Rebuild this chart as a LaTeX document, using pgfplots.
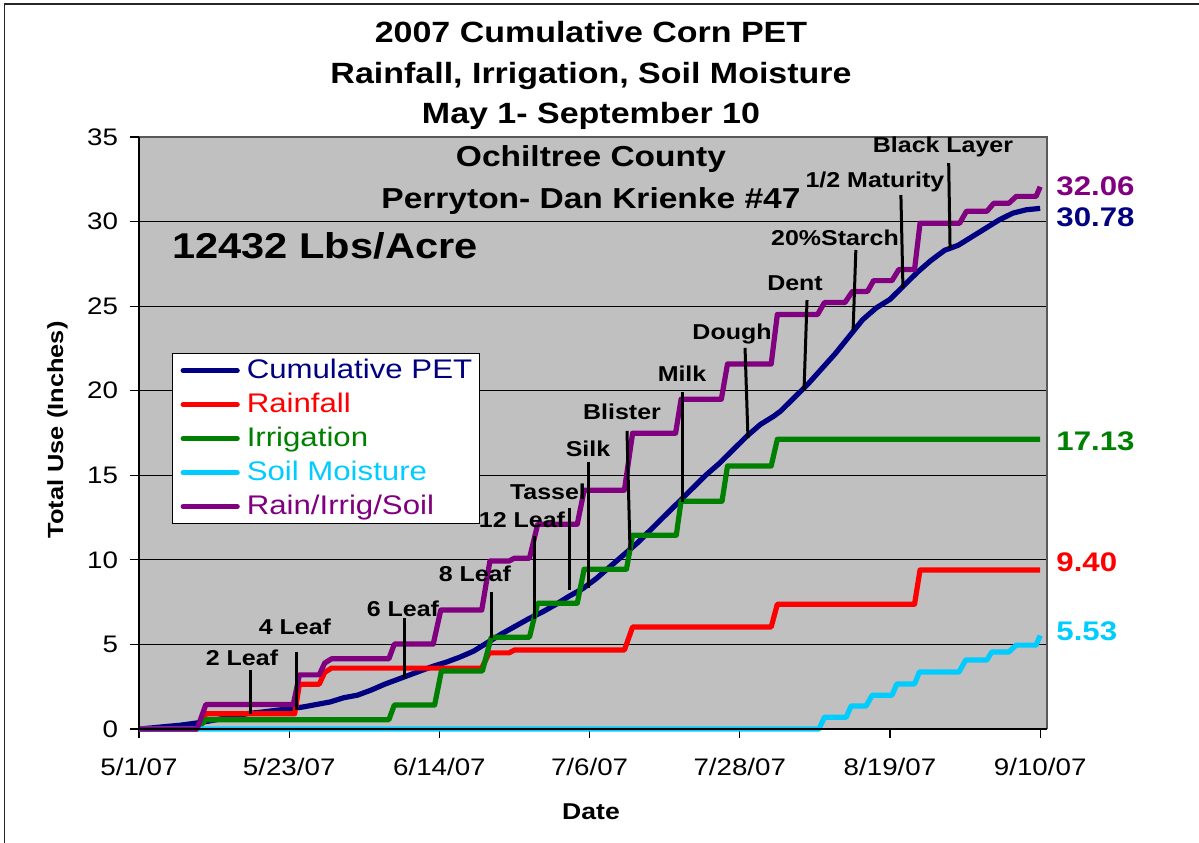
\documentclass[border=0pt]{standalone}
\usepackage{fontspec}
\setmainfont{Liberation Sans}[FakeStretch=1.16]
\usepackage{pgfplots}
\pgfplotsset{compat=1.18}

\definecolor{bgray}{RGB}{192,192,192}
\definecolor{pet}{RGB}{0,0,128}
\definecolor{rain}{RGB}{255,0,0}
\definecolor{irr}{RGB}{0,128,0}
\definecolor{soil}{RGB}{0,204,255}
\definecolor{tot}{RGB}{128,0,128}

\newcommand\fs[1]{\fontsize{#1}{#1}\selectfont}

\begin{document}
\begin{tikzpicture}
\fill[white] (0,0) rectangle (599.5bp,421.5bp);
\useasboundingbox (0,0) rectangle (599.5bp,421.5bp);
\draw[line width=0.8bp, black!85] (2.3bp,0) -- (2.3bp,419.6bp) -- (599.5bp,419.6bp);

\begin{axis}[
  at={(69.5bp,57bp)}, anchor=south west,
  scale only axis, width=454bp, height=296bp,
  xmin=0, xmax=133, ymin=0, ymax=35,
  clip=false,
  axis background/.style={fill=bgray},
  axis line style={draw=none},
  xtick={0,22,44,66,88,110,132},
  xticklabels={5/1/07,5/23/07,6/14/07,7/6/07,7/28/07,8/19/07,9/10/07},
  ytick={0,5,...,35},
  xtick pos=left, ytick pos=left,
  tick align=outside, major tick length=4.5bp,
  tick style={black, line width=0.6bp},
  ymajorgrids, major grid style={black, line width=0.5bp},
  ticklabel style={font=\fs{12}},
  xticklabel style={yshift=-6.5bp},
  yticklabel style={xshift=-2.5bp},
  /pgf/number format/assume math mode=true,
  legend style={at={(rel axis cs:0.0363,0.635)}, anchor=north west,
    draw=black, line width=0.6bp, fill=white, font=\fs{13.5},
    inner xsep=1.5bp, inner ysep=0bp, row sep=0pt,
    nodes={inner ysep=0.5bp, text height=12bp, text depth=4bp},
    cells={anchor=west}},
  legend image code/.code={\path (0bp,0bp) (31bp,0bp);
    \draw[#1, line cap=round] (2.5bp,0bp) -- (29.5bp,0bp);},
  every axis plot/.append style={no marks, line width=2.6bp, line join=round},
]

\addplot[pet] coordinates {
(0,0) (2,0.07) (4,0.15) (6,0.22) (8,0.33) (10,0.45) (12,0.6) (14,0.75) (16,0.92)
(18,1.0) (20,1.1) (22,1.2) (23,1.25) (24,1.3) (26,1.45) (28,1.6) (30,1.85) (32,2.0)
(34,2.3) (36,2.65) (38,2.95) (39,3.1) (41,3.4) (43,3.7) (45,3.95) (47,4.25) (49,4.6)
(51,5.1) (53,5.6) (55,6.05) (57,6.5) (59,6.9) (61,7.35) (63,7.85) (65,8.3) (67,8.9)
(69,9.6) (71,10.3) (73,11.0) (75,11.8) (77,12.6) (79,13.4) (81,14.2) (83,15.0)
(85,15.7) (87,16.5) (89,17.3) (91,18.0) (93,18.5) (94,18.8) (96,19.6) (98,20.4)
(100,21.3) (102,22.2) (104,23.2) (106,24.2) (108,24.9) (110,25.4) (112,26.2)
(114,27.0) (116,27.7) (118,28.3) (120,28.6) (122,29.1) (124,29.6) (126,30.1)
(128,30.5) (130,30.7) (132,30.78)};
\addlegendentry{\color{pet}Cumulative PET}

\addplot[rain] coordinates {
(0,0) (8.5,0) (9.8,0.9) (22.8,0.9) (23.5,2.65) (26.4,2.65) (27.2,3.35) (28.2,3.6)
(50.2,3.6) (51.3,4.5) (54.2,4.5) (55,4.67) (71.1,4.67) (72.3,6.03) (92.6,6.03)
(93.5,7.38) (113.6,7.38) (114.4,9.4) (132,9.4)};
\addlegendentry{\color{rain}Rainfall}

\addplot[irr] coordinates {
(0,0) (8.5,0) (9.8,0.55) (36.6,0.55) (37.4,1.42) (43.3,1.42) (44.3,3.43) (50.3,3.43)
(51.6,5.43) (57.2,5.43) (58.4,7.44) (64.2,7.44) (65.2,9.45) (71.4,9.45) (72.3,11.46)
(78.7,11.46) (79.4,13.47) (85.4,13.47) (86.2,15.55) (92.6,15.55) (93.5,17.13) (132,17.13)};
\addlegendentry{\color{irr}Irrigation}

\addplot[soil] coordinates {
(0,0) (99.6,0) (100.4,0.7) (103.6,0.7) (104.3,1.36) (106.5,1.36) (107.4,2.0)
(110.3,2.0) (111,2.66) (113.6,2.66) (114.3,3.37) (120.1,3.37) (121.1,4.08)
(124.2,4.08) (124.9,4.55) (127.4,4.55) (128.5,4.96) (131.4,4.96) (132,5.53)};
\addlegendentry{\color{soil}Soil Moisture}

\addplot[tot] coordinates {
(0,0) (8.5,0) (9.8,1.45) (22.6,1.45) (23.5,3.2) (26.4,3.2) (27.2,3.9) (28.2,4.15)
(36.6,4.15) (37.4,5.02) (43.1,5.02) (44.2,7.03) (50.2,7.03) (51.4,9.93) (54.2,9.93)
(55,10.1) (57.2,10.1) (58.4,12.11) (64.2,12.11) (65.2,14.12) (71.1,14.12) (72.3,17.49)
(78.6,17.49) (79.4,19.5) (85.3,19.5) (86.2,21.58) (92.6,21.58) (93.5,24.51)
(99.4,24.51) (100.4,25.21) (103.4,25.21) (104.5,25.87) (106.7,25.87) (107.6,26.51)
(110.3,26.51) (111.3,27.17) (113.6,27.17) (114.4,29.9) (120.2,29.9) (121.2,30.61)
(124.2,30.61) (125.2,31.08) (127.4,31.08) (128.5,31.49) (131.4,31.49) (132,32.06)};
\addlegendentry{\color{tot}Rain/Irrig/Soil}

% plot frame: gray top/right, black axes left/bottom
\draw[gray!70!black, line width=0.8bp] (rel axis cs:0,1) -- (rel axis cs:1,1) -- (rel axis cs:1,0);
\draw[black, line width=0.7bp] (rel axis cs:0,1) -- (rel axis cs:0,0) -- (rel axis cs:1,0);

% growth stage markers
\begin{scope}[line width=1.5bp, black]
\draw (axis cs:16.4,3.49) -- (axis cs:16.4,0.89);
\draw (axis cs:23.14,4.55) -- (axis cs:23.14,1.12);
\draw (axis cs:38.96,6.56) -- (axis cs:38.96,3.02);
\draw (axis cs:51.56,8.1) -- (axis cs:51.56,5.38);
\draw (axis cs:58.0,11.41) -- (axis cs:58.0,6.5);
\draw (axis cs:63.13,13.07) -- (axis cs:63.13,8.22);
\draw (axis cs:65.91,15.79) -- (axis cs:65.91,8.34);
\draw (axis cs:71.48,17.62) -- (axis cs:71.92,10.58);
\draw (axis cs:79.54,19.92) -- (axis cs:79.54,13.42);
\draw (axis cs:88.77,22.53) -- (axis cs:89.2,17.2);
\draw (axis cs:97.85,25.36) -- (axis cs:97.41,20.04);
\draw (axis cs:105.0,28.32) -- (axis cs:104.6,23.59);
\draw (axis cs:111.6,31.57) -- (axis cs:111.9,26.07);
\draw (axis cs:118.6,33.46) -- (axis cs:118.8,28.44);
\end{scope}
\begin{scope}[every node/.style={anchor=base, font=\fs{10.8}\bfseries}]
\node at (axis cs:15.09,3.78) {2 Leaf};
\node at (axis cs:22.85,5.56) {4 Leaf};
\node at (axis cs:38.67,6.68) {6 Leaf};
\node at (axis cs:49.2,8.75) {8 Leaf};
\node at (axis cs:56.1,11.94) {12 Leaf};
\node at (axis cs:59.9,13.54) {Tassel};
\node at (axis cs:65.77,16.14) {Silk};
\node at (axis cs:70.75,18.27) {Blister};
\node at (axis cs:79.54,20.57) {Milk};
\node at (axis cs:86.86,23.0) {Dough};
\node at (axis cs:96.09,25.9) {Dent};
\node at (axis cs:101.95,28.6) {20\%Starch};
\node at (axis cs:107.8,31.99) {1/2 Maturity};
\node at (axis cs:117.77,34.11) {Black Layer};
\end{scope}

% texts in the plot area
\node[anchor=base, font=\fs{14.5}\bfseries] at (axis cs:66.2,33.23) {Ochiltree County};
\node[anchor=base, font=\fs{14.5}\bfseries] at (axis cs:66.2,30.8) {Perryton- Dan Krienke \#47};
\node[anchor=base west, inner sep=0pt, font=\fs{18}\bfseries] at (axis cs:4.83,27.79) {12432 Lbs/Acre};

% final values
\begin{scope}[every node/.style={anchor=base west, inner sep=0pt, font=\fs{13.5}\bfseries}]
\node[text=tot] at (axis cs:134.32,31.57) {32.06};
\node[text=pet] at (axis cs:134.32,29.68) {30.78};
\node[text=irr] at (axis cs:134.32,16.49) {17.13};
\node[text=rain] at (axis cs:134.32,9.34) {9.40};
\node[text=soil] at (axis cs:134.32,5.26) {5.53};
\end{scope}

% titles and axis labels
\begin{scope}[every node/.style={anchor=base, font=\fs{14.7}\bfseries}]
\node at (rel axis cs:0.4978,1.1588) {2007 Cumulative Corn PET};
\node at (rel axis cs:0.4978,1.0912) {Rainfall, Irrigation, Soil Moisture};
\node at (rel axis cs:0.4978,1.0236) {May 1- September 10};
\end{scope}
\node[anchor=base, font=\fs{11.5}\bfseries] at (rel axis cs:0.4978,-0.1537) {Date};
\node[anchor=base, rotate=90, font=\fs{11}\bfseries] at (rel axis cs:-0.0837,0.505) {Total Use (Inches)};
\end{axis}
\end{tikzpicture}
\end{document}
